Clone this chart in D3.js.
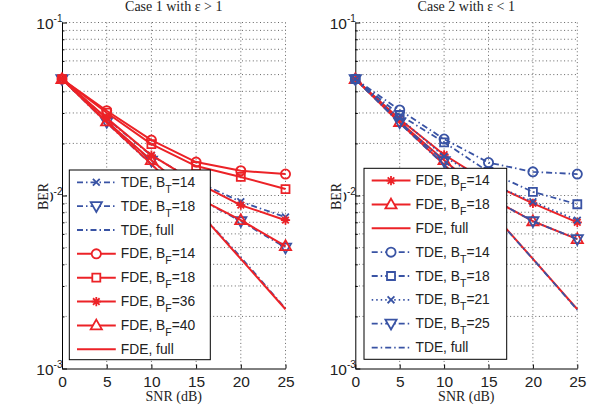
<!DOCTYPE html>
<html><head><meta charset="utf-8">
<script src="https://cdn.jsdelivr.net/npm/d3@7"></script>
<style>body{margin:0;background:#fff}svg{display:block}</style>
</head><body>
<svg id="c" width="594" height="410"></svg>
<script>
// ---------- data ----------
const snr = [0, 5, 10, 15, 20, 25];
const xTicks = [0, 5, 10, 15, 20, 25];
const yDecades = [1e-3, 1e-2, 1e-1];
const yExpLabels = ["-3", "-2", "-1"];

// Case 1 (epsilon > 1)
const c1_tde_bt14 = [0.0471, 0.0278, 0.0170, 0.0121, 0.0092, 0.0075];
const c1_tde_bt18 = [0.0471, 0.0266, 0.0159, 0.0098, 0.0071, 0.0050];
const c1_tde_full = [0.0471, 0.0263, 0.0151, 0.0084, 0.0044, 0.00222];
const c1_fde_bf14 = [0.0471, 0.0309, 0.0209, 0.0156, 0.0139, 0.0133];
const c1_fde_bf18 = [0.0471, 0.0301, 0.0198, 0.0148, 0.0128, 0.0109];
const c1_fde_bf36 = [0.0471, 0.0280, 0.0171, 0.0119, 0.0088, 0.0072];
const c1_fde_bf40 = [0.0471, 0.0268, 0.0160, 0.0098, 0.0072, 0.0051];
const c1_fde_full = [0.0471, 0.0264, 0.0152, 0.0084, 0.0043, 0.0022];

// Case 2 (epsilon < 1)
const c2_fde_bf14 = [0.0471, 0.0276, 0.0172, 0.0119, 0.0090, 0.0070];
const c2_fde_bf18 = [0.0471, 0.0266, 0.0160, 0.0098, 0.0071, 0.0056];
const c2_fde_full = [0.0471, 0.0263, 0.0151, 0.0084, 0.0043, 0.0022];
const c2_tde_bt14 = [0.0471, 0.0312, 0.0212, 0.0155, 0.0137, 0.0133];
const c2_tde_bt18 = [0.0471, 0.0292, 0.0203, 0.0137, 0.0105, 0.0089];
const c2_tde_bt21 = [0.0471, 0.0280, 0.0168, 0.0118, 0.0092, 0.0072];
const c2_tde_bt25 = [0.0471, 0.0265, 0.0158, 0.0098, 0.0071, 0.0056];
const c2_tde_full = [0.0471, 0.0262, 0.0150, 0.0083, 0.0043, 0.00218];

const titles = ["Case 1 with \u03b5 > 1", "Case 2 with \u03b5 < 1"];

// ---------- styles ----------
const RED = "#ec2227", BLUE = "#3953a4";
const DASH = { solid: null, dashdot: "6,3,1.5,3", dotted: "1.5,3" };
const SANS = "Liberation Sans, Arial, sans-serif";
const SERIF = "Liberation Serif, Times New Roman, serif";

const panels = [
  { title: titles[0], x0: 62, x1: 285.5, legX: 69.3, legY: 170, legW: 141, legH: 189.7,
    series: [
      { pre: "TDE, B", sub: "T", post: "=14", data: c1_tde_bt14, color: BLUE, dash: "dashdot", marker: "x" },
      { pre: "TDE, B", sub: "T", post: "=18", data: c1_tde_bt18, color: BLUE, dash: "dashdot", marker: "tridown" },
      { pre: "TDE, full", sub: "", post: "", data: c1_tde_full, color: BLUE, dash: "dashdot", marker: null },
      { pre: "FDE, B", sub: "F", post: "=14", data: c1_fde_bf14, color: RED, dash: "solid", marker: "circle" },
      { pre: "FDE, B", sub: "F", post: "=18", data: c1_fde_bf18, color: RED, dash: "solid", marker: "square" },
      { pre: "FDE, B", sub: "F", post: "=36", data: c1_fde_bf36, color: RED, dash: "solid", marker: "star" },
      { pre: "FDE, B", sub: "F", post: "=40", data: c1_fde_bf40, color: RED, dash: "solid", marker: "triup" },
      { pre: "FDE, full", sub: "", post: "", data: c1_fde_full, color: RED, dash: "solid", marker: null }
    ] },
  { title: titles[1], x0: 355.3, x1: 577.3, legX: 364, legY: 168.3, legW: 142.7, legH: 191,
    series: [
      { pre: "FDE, B", sub: "F", post: "=14", data: c2_fde_bf14, color: RED, dash: "solid", marker: "star" },
      { pre: "FDE, B", sub: "F", post: "=18", data: c2_fde_bf18, color: RED, dash: "solid", marker: "triup" },
      { pre: "FDE, full", sub: "", post: "", data: c2_fde_full, color: RED, dash: "solid", marker: null },
      { pre: "TDE, B", sub: "T", post: "=14", data: c2_tde_bt14, color: BLUE, dash: "dashdot", marker: "circle" },
      { pre: "TDE, B", sub: "T", post: "=18", data: c2_tde_bt18, color: BLUE, dash: "dashdot", marker: "square" },
      { pre: "TDE, B", sub: "T", post: "=21", data: c2_tde_bt21, color: BLUE, dash: "dotted", marker: "x" },
      { pre: "TDE, B", sub: "T", post: "=25", data: c2_tde_bt25, color: BLUE, dash: "dashdot", marker: "tridown" },
      { pre: "TDE, full", sub: "", post: "", data: c2_tde_full, color: BLUE, dash: "dashdot", marker: null }
    ] }
];

function markerPath(t) {
  const r = 4.6, h = 4.0;
  switch (t) {
    case "circle": return `M${r},0A${r},${r} 0 1,1 ${-r},0A${r},${r} 0 1,1 ${r},0Z`;
    case "square": return `M${-h},${-h}H${h}V${h}H${-h}Z`;
    case "triup": return "M0,-5.8L5.6,4L-5.6,4Z";
    case "tridown": return "M0,5.8L5.6,-4L-5.6,-4Z";
    case "x": return "M-3.4,-3.4L3.4,3.4M-3.4,3.4L3.4,-3.4";
    case "star": return "M-4.6,0H4.6M0,-4.6V4.6M-3.3,-3.3L3.3,3.3M-3.3,3.3L3.3,-3.3";
  }
  return "";
}

const svg = d3.select("#c");
const yTop = 22.5, yBot = 368.5;
const y = d3.scaleLog().domain([1e-3, 1e-1]).range([yBot, yTop]);
const minorVals = [];
for (const d of [1e-3, 1e-2]) for (let k = 2; k <= 9; k++) minorVals.push(d * k);

panels.forEach(p => {
  const x = d3.scaleLinear().domain([0, 25]).range([p.x0, p.x1]);
  const g = svg.append("g");

  // grid
  const grid = g.append("g").attr("stroke", "#333").attr("stroke-width", 0.75)
    .attr("stroke-dasharray", "1,2.6").attr("fill", "none");
  xTicks.filter(v => v > 0).forEach(v => {
    grid.append("line").attr("x1", x(v)).attr("x2", x(v)).attr("y1", yTop).attr("y2", yBot);
  });
  minorVals.concat([1e-2, 1e-1]).forEach(v => {
    grid.append("line").attr("x1", p.x0).attr("x2", p.x1).attr("y1", y(v)).attr("y2", y(v));
  });

  // x axis
  const xa = g.append("g").attr("transform", `translate(0,${yBot})`)
    .call(d3.axisBottom(x).tickValues(xTicks).tickSize(-4).tickSizeOuter(0).tickFormat(d3.format("d")));
  xa.attr("font-size", null).attr("font-family", null);
  xa.select(".domain").attr("stroke", "#000").attr("stroke-width", 1);
  xa.selectAll(".tick line").attr("stroke", "#000");
  xa.selectAll("text").attr("y", 18.5).attr("dy", 0)
    .style("font-family", SANS).style("font-size", "15.5px").attr("fill", "#222");

  // y axis
  const ya = g.append("g").attr("transform", `translate(${p.x0},0)`)
    .call(d3.axisLeft(y).tickValues(yDecades).tickSize(-5).tickSizeOuter(0).tickFormat(() => ""));
  ya.attr("font-size", null).attr("font-family", null);
  ya.select(".domain").attr("stroke", "#000").attr("stroke-width", 1);
  ya.selectAll(".tick line").attr("stroke", "#000");
  ya.selectAll(".tick text").each(function(d, i) {
    const t = d3.select(this).attr("x", 0.5).attr("dy", 0).attr("y", 5.5)
      .attr("text-anchor", "end").style("font-family", SANS)
      .style("font-size", "15.5px").attr("fill", "#222");
    t.append("tspan").text("10");
    t.append("tspan").style("font-size", "10px").attr("dy", -6.5).text(yExpLabels[i]);
  });
  // minor ticks
  const ym = g.append("g").attr("transform", `translate(${p.x0},0)`)
    .call(d3.axisLeft(y).tickValues(minorVals).tickSize(-2.5).tickSizeOuter(0).tickFormat(() => ""));
  ym.select(".domain").remove();
  ym.selectAll(".tick line").attr("stroke", "#000");

  // title & labels
  g.append("text").attr("x", (p.x0 + p.x1) / 2).attr("y", 11).attr("text-anchor", "middle")
    .style("font-family", SERIF).style("font-size", "14px").attr("fill", "#222")
    .text(p.title);
  g.append("text").attr("x", (p.x0 + p.x1) / 2).attr("y", 401).attr("text-anchor", "middle")
    .style("font-family", SERIF).style("font-size", "14px").attr("fill", "#222")
    .text("SNR (dB)");
  const yl = g.append("g").attr("transform", `translate(${p.x0 - 14.5},${(yTop + yBot) / 2 + 1}) rotate(-90)`);
  const ylt = yl.append("text").attr("text-anchor", "middle")
    .style("font-family", SERIF).style("font-size", "14px").attr("fill", "#222")
    .text("BER");
  const bb = ylt.node().getBBox();
  yl.insert("rect", "text").attr("x", bb.x - 1).attr("y", bb.y).attr("width", bb.width + 2)
    .attr("height", bb.height).attr("fill", "#fff");

  // series
  const line = d3.line().x((d, i) => x(snr[i])).y(d => y(d));
  p.series.forEach(s => {
    g.append("path").datum(s.data).attr("d", line).attr("fill", "none")
      .attr("stroke", s.color).attr("stroke-width", s.color === RED ? 2 : 1.8)
      .attr("stroke-dasharray", DASH[s.dash]).attr("stroke-linejoin", "round");
    if (s.marker) {
      g.append("g").selectAll("path").data(s.data).join("path")
        .attr("transform", (d, i) => `translate(${x(snr[i])},${y(d)})`)
        .attr("d", markerPath(s.marker)).attr("fill", "none")
        .attr("stroke", s.color).attr("stroke-width", 1.8);
    }
  });

  // legend
  const lg = g.append("g");
  lg.append("rect").attr("x", p.legX).attr("y", p.legY).attr("width", p.legW).attr("height", p.legH)
    .attr("fill", "#fff").attr("stroke", "#000").attr("stroke-width", 1);
  const rowY0 = p.legY + 12.3, rowStep = 23.85;
  p.series.forEach((s, i) => {
    const ry = rowY0 + i * rowStep;
    lg.append("line").attr("x1", p.legX + 7.7).attr("x2", p.legX + 46.5).attr("y1", ry).attr("y2", ry)
      .attr("stroke", s.color).attr("stroke-width", s.color === RED ? 2 : 1.8)
      .attr("stroke-dasharray", DASH[s.dash]);
    if (s.marker) {
      lg.append("path").attr("transform", `translate(${p.legX + 27},${ry})`)
        .attr("d", markerPath(s.marker)).attr("fill", s.marker === "circle" || s.marker === "square" || s.marker.startsWith("tri") ? "#fff" : "none")
        .attr("stroke", s.color).attr("stroke-width", 1.8);
    }
    const t = lg.append("text").attr("x", p.legX + 51.5).attr("y", ry + 4.5)
      .style("font-family", SANS).style("font-size", "13.8px").attr("fill", "#222");
    t.append("tspan").text(s.pre);
    if (s.sub) {
      t.append("tspan").style("font-size", "10.5px").attr("dy", 6).text(s.sub);
      t.append("tspan").attr("dy", -6).text(s.post);
    }
  });
});
</script>
</body></html>
